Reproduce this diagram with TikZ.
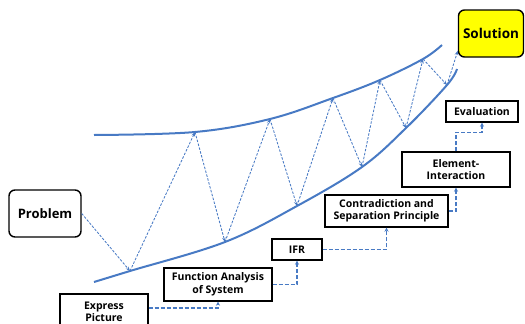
\documentclass[tikz,border=0pt]{standalone}
\usepackage{fontspec}
\setmainfont{Open Sans}
\usetikzlibrary{arrows.meta,calc}
\definecolor{curveblue}{RGB}{72,122,196}
\definecolor{solyellow}{RGB}{255,255,0}
\tikzset{
  box/.style={draw=black,line width=1.4pt,align=center,inner sep=0pt,font=\bfseries\fontsize{10.5}{12.5}\selectfont},
  rbox/.style={box,rounded corners=6pt},
  curve/.style={draw=curveblue,line width=2pt},
  zig/.style={draw=curveblue,line width=0.85pt,dash pattern=on 2.5pt off 1.5pt,-{Stealth[length=4.5pt,width=3.5pt]}},
  stepline/.style={draw=curveblue,line width=1.3pt,dash pattern=on 4pt off 2pt,-{Stealth[length=4pt,width=4pt]}}
}
\begin{document}
\begin{tikzpicture}[x=1pt,y=-1pt]
\useasboundingbox (0,0) rectangle (525,324);
\clip (0,0) rectangle (525,324);
% curves
\draw[curve] plot[smooth,tension=0.6] coordinates {(94,135) (195,132) (270,119) (333,98) (380,80) (423,59) (442,45)};
\draw[curve] plot[smooth,tension=0.6] coordinates {(94,282) (130,271) (225,242) (297,206) (362,167) (406,128) (447,85) (457,69)};
% zigzag points
\coordinate (L1) at (130,271);
\coordinate (U1) at (195,132);
\coordinate (L2) at (225,242);
\coordinate (U2) at (270,119);
\coordinate (L3) at (297,206);
\coordinate (U3) at (333,98);
\coordinate (L4) at (362,167);
\coordinate (U4) at (380,80);
\coordinate (L5) at (406,128);
\coordinate (U5) at (423,59);
\coordinate (L6) at (447,85);
% boxes
\node[rbox,minimum width=72pt,minimum height=47pt,font=\bfseries\fontsize{13}{15}\selectfont] (PR) at (45,213.5) {Problem};
\node[rbox,fill=solyellow,minimum width=65pt,minimum height=47pt,font=\bfseries\fontsize{13.5}{15}\selectfont] (SO) at (491,33.5) {Solution};
\node[box,minimum width=88pt,minimum height=36pt] (EP) at (104,312) {Express\\Picture};
\node[box,minimum width=108pt,minimum height=33pt] (FA) at (218,284.5) {Function Analysis\\of System};
\node[box,minimum width=50pt,minimum height=21pt] (IF) at (297,249.5) {IFR};
\node[box,minimum width=123pt,minimum height=32pt] (CS) at (386.5,211) {Contradiction and\\Separation Principle};
\node[box,minimum width=108pt,minimum height=35pt] (EI) at (456,169.5) {Element-\\Interaction};
\node[box,minimum width=72pt,minimum height=21pt] (EV) at (482,111.5) {Evaluation};
% zigzag
\draw[zig] (PR.east) -- (L1);
\draw[zig] (L1) -- (U1);
\draw[zig] (U1) -- (L2);
\draw[zig] (L2) -- (U2);
\draw[zig] (U2) -- (L3);
\draw[zig] (L3) -- (U3);
\draw[zig] (U3) -- (L4);
\draw[zig] (L4) -- (U4);
\draw[zig] (U4) -- (L5);
\draw[zig] (L5) -- (U5);
\draw[zig] (U5) -- (L6);
\draw[zig] (L6) -- ([yshift=7pt]SO.south west);
% step connectors
\draw[stepline] ([yshift=4pt]EP.east) -| (FA.south);
\draw[stepline] (FA.east) -| (IF.south);
\draw[stepline] (IF.east) -| (CS.south);
\draw[stepline] (CS.east) -| (EI.south);
\draw[stepline] (EI.north) -- ++(0,-19) -| (EV.south);
\end{tikzpicture}
\end{document}
